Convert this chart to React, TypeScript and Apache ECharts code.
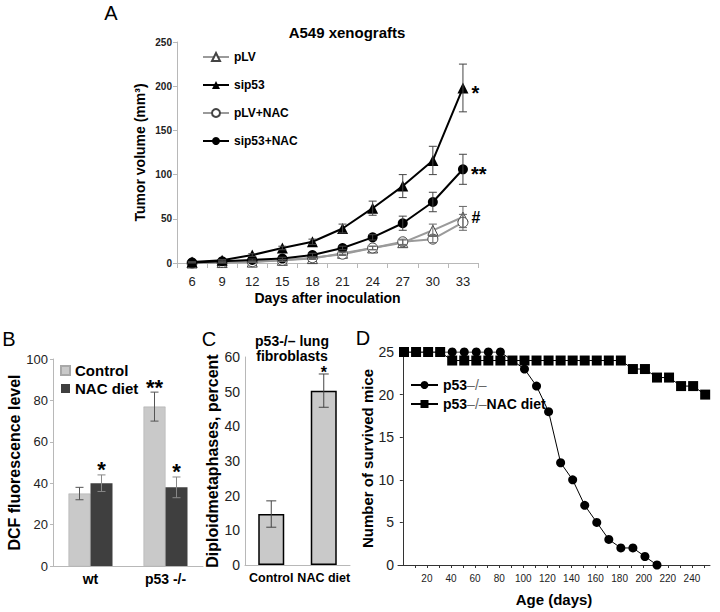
import React, { useEffect, useRef } from "react";
import * as echarts from "echarts";

const FONT = '"Liberation Sans", Arial, Helvetica, sans-serif';

// ---------- Panel A data ----------
const daysA = ["6", "9", "12", "15", "18", "21", "24", "27", "30", "33"];
const pLV = [0, 0.5, 1, 3, 5, 11, 17, 23, 37, 52];
const pLVErr = [0, 0, 0.5, 1, 1, 1.5, 2, 3, 7, 12];
const sip53 = [1, 3, 9, 17, 24, 39, 62, 87, 116, 198];
const sip53Err = [0.5, 1, 1.5, 2, 3, 5, 8, 13, 16, 27];
const pLVNAC = [0, 0.5, 1.5, 3, 6, 10, 17, 24, 27, 46];
const pLVNACErr = [0, 0.5, 0.5, 1, 1, 1.5, 2, 3, 4, 9];
const sip53NAC = [0.5, 2, 3.5, 5, 9, 17, 29, 45, 69, 106];
const sip53NACErr = [0.5, 0.5, 1, 1.5, 2, 2, 3, 8, 11, 17];
const yTicksA = { min: 0, max: 250, step: 50 };

// ---------- Panel B data ----------
const bCats = ["wt", "p53 -/-"];
const bControl = [35, 77];
const bControlErr = [3, 7];
const bControlStars = ["", "**"];
const bNAC = [40, 38];
const bNACErr = [4, 5];
const bNACStars = ["*", "*"];

// ---------- Panel C data ----------
const cCats = ["Control", "NAC diet"];
const cValues = [14.7, 50.3];
const cErr = [3.8, 4.8];
const cStars = ["", "*"];

// ---------- Panel D data ----------
const dDaysP53 = [1, 11, 21, 31, 41, 51, 61, 71, 81, 91, 101, 111, 121, 131, 141, 151, 161, 171, 181, 191, 201, 211];
const dP53 = [25, 25, 25, 25, 25, 25, 25, 25, 25, 24, 23, 21, 18, 12, 10, 7, 5, 3, 2, 2, 1, 0];
const dDaysNAC = [1, 11, 21, 31, 41, 51, 61, 71, 81, 91, 101, 111, 121, 131, 141, 151, 161, 171, 181, 191, 201, 211, 221, 231, 241, 251];
const dNAC = [25, 25, 25, 25, 24, 24, 24, 24, 24, 24, 24, 24, 24, 24, 24, 24, 24, 24, 24, 23, 23, 22, 22, 21, 21, 20];
const dLabelTicks = [20, 40, 60, 80, 100, 120, 140, 160, 180, 200, 220, 240];
const dMinorTicks = [10, 20, 30, 40, 50, 60, 70, 80, 90, 100, 110, 120, 130, 140, 150, 160, 170, 180, 190, 200, 210, 220, 230, 240, 250];

function lastLabel(vals: number[], text: string, dy: number) {
  return vals.map((v, i) =>
    i === vals.length - 1
      ? {
          value: v,
          label: {
            show: true,
            formatter: text,
            position: "right",
            distance: 3,
            offset: [0, dy],
            fontSize: text === "#" ? 16 : 20,
            fontWeight: "bold",
            color: "#000",
            fontFamily: FONT,
          },
        }
      : v
  );
}

function errSeries(
  xi: number,
  vals: number[],
  errs: number[],
  offset: number,
  color: string,
  capW: number,
  stars?: string[],
  starSize?: number,
  starDy?: number
) {
  return {
    type: "custom",
    xAxisIndex: xi,
    yAxisIndex: xi,
    z: 6,
    silent: true,
    data: vals.map((v, i) => [i, v, errs[i]]),
    renderItem: (params: any, api: any) => {
      const i = api.value(0);
      const v = api.value(1);
      const e = api.value(2);
      const top = api.coord([i, v + e]);
      const bot = api.coord([i, Math.max(v - e, 0)]);
      const cx = top[0] + offset;
      const children: any[] = [];
      if (e > 0) {
        const st = { stroke: color, lineWidth: 1 };
        children.push({ type: "line", shape: { x1: cx, y1: top[1], x2: cx, y2: bot[1] }, style: st });
        children.push({ type: "line", shape: { x1: cx - capW, y1: top[1], x2: cx + capW, y2: top[1] }, style: st });
        children.push({ type: "line", shape: { x1: cx - capW, y1: bot[1], x2: cx + capW, y2: bot[1] }, style: st });
      }
      const s = stars ? stars[params.dataIndex] : "";
      if (s) {
        children.push({
          type: "text",
          style: {
            text: s,
            x: cx,
            y: top[1] - (starDy || 0),
            font: `bold ${starSize}px ${FONT}`,
            fill: "#000",
            textAlign: "center",
            textVerticalAlign: "middle",
          },
        });
      }
      return { type: "group", children };
    },
  };
}

export default function App() {
  const ref = useRef<HTMLDivElement>(null);

  useEffect(() => {
    if (!ref.current) return;
    const chart = echarts.init(ref.current, null, { renderer: "svg" });

    const grayAxis = { show: true, lineStyle: { color: "#b8b8b8", width: 1 } };
    const darkAxis = { show: true, lineStyle: { color: "#333", width: 1 } };

    const option: any = {
      animation: false,
      backgroundColor: "#fff",
      textStyle: { fontFamily: FONT, color: "#000" },
      title: [
        {
          text: "A549 xenografts",
          left: 347,
          top: 25,
          textAlign: "center",
          padding: 0,
          textStyle: { fontSize: 15, fontWeight: "bold", color: "#000", fontFamily: FONT },
        },
        {
          text: "p53-/– lung\nfibroblasts",
          left: 292,
          top: 333,
          textAlign: "center",
          padding: 0,
          textStyle: { fontSize: 14, fontWeight: "bold", color: "#000", fontFamily: FONT, lineHeight: 15 },
        },
      ],
      graphic: [
        { type: "text", x: 111, y: 13, style: { text: "A", font: `20px ${FONT}`, fill: "#000", textAlign: "center", textVerticalAlign: "middle" } },
        { type: "text", x: 9, y: 339, style: { text: "B", font: `20px ${FONT}`, fill: "#000", textAlign: "center", textVerticalAlign: "middle" } },
        { type: "text", x: 209, y: 339, style: { text: "C", font: `20px ${FONT}`, fill: "#000", textAlign: "center", textVerticalAlign: "middle" } },
        { type: "text", x: 363, y: 338, style: { text: "D", font: `20px ${FONT}`, fill: "#000", textAlign: "center", textVerticalAlign: "middle" } },
      ],
      legend: [
        {
          data: ["pLV", "sip53", "pLV+NAC", "sip53+NAC"],
          orient: "vertical",
          left: 202,
          top: 51,
          padding: 0,
          itemWidth: 26,
          itemHeight: 10,
          itemGap: 16,
          textStyle: { fontSize: 12, fontWeight: "bold", color: "#000", fontFamily: FONT },
        },
        {
          data: ["Control", "NAC diet"],
          orient: "vertical",
          left: 60,
          top: 363,
          padding: 0,
          icon: "rect",
          itemWidth: 9,
          itemHeight: 9,
          itemGap: 3,
          textStyle: { fontSize: 15, fontWeight: "bold", color: "#000", fontFamily: FONT },
        },
        {
          data: ["p53–/–", "p53–/–NAC diet"],
          orient: "vertical",
          left: 410,
          top: 378,
          padding: 0,
          itemWidth: 27,
          itemHeight: 10,
          itemGap: 5,
          formatter: (n: string) => n.replace("–/–", "{d|–/–}"),
          textStyle: {
            fontSize: 14,
            fontWeight: "bold",
            color: "#000",
            fontFamily: FONT,
            rich: { d: { fontSize: 14, fontWeight: "normal", color: "#666", fontFamily: FONT } },
          },
        },
      ],
      grid: [
        { left: 177, top: 42, width: 301, height: 221 },
        { left: 53, top: 359, width: 150, height: 207 },
        { left: 245, top: 357, width: 105, height: 208 },
        { left: 398, top: 352, width: 312, height: 213 },
      ],
      xAxis: [
        {
          gridIndex: 0,
          type: "category",
          data: daysA,
          boundaryGap: true,
          axisLine: grayAxis,
          axisTick: { show: true, length: 5, lineStyle: { color: "#b8b8b8" } },
          axisLabel: { fontSize: 13, color: "#222", margin: 12, fontFamily: FONT },
          splitLine: { show: false },
          name: "Days after inoculation",
          nameLocation: "middle",
          nameGap: 28,
          nameTextStyle: { fontSize: 14, fontWeight: "bold", color: "#000", fontFamily: FONT },
        },
        {
          gridIndex: 1,
          type: "category",
          data: bCats,
          axisLine: grayAxis,
          axisTick: { show: false },
          axisLabel: { fontSize: 14, fontWeight: "bold", color: "#000", margin: 6, interval: 0, fontFamily: FONT },
          splitLine: { show: false },
        },
        {
          gridIndex: 2,
          type: "category",
          data: cCats,
          axisLine: grayAxis,
          axisTick: { show: false },
          axisLabel: { fontSize: 12.5, fontWeight: "bold", color: "#000", margin: 6, interval: 0, hideOverlap: false, fontFamily: FONT },
          splitLine: { show: false },
        },
        {
          gridIndex: 3,
          type: "value",
          min: -4,
          max: 255,
          axisLine: darkAxis,
          axisTick: { show: true, length: 3, customValues: dMinorTicks, lineStyle: { color: "#333" } },
          axisLabel: { fontSize: 10, color: "#222", margin: 8, customValues: dLabelTicks, fontFamily: FONT },
          splitLine: { show: false },
          name: "Age (days)",
          nameLocation: "middle",
          nameGap: 27,
          nameTextStyle: { fontSize: 15, fontWeight: "bold", color: "#000", fontFamily: FONT },
        },
      ],
      yAxis: [
        {
          gridIndex: 0,
          type: "value",
          min: yTicksA.min,
          max: yTicksA.max,
          interval: yTicksA.step,
          axisLine: grayAxis,
          axisTick: { show: true, length: 4, lineStyle: { color: "#b8b8b8" } },
          axisLabel: { fontSize: 10, fontWeight: "bold", color: "#222", margin: 5, fontFamily: FONT },
          splitLine: { show: false },
          name: "Tumor volume (mm³)",
          nameLocation: "middle",
          nameRotate: 90,
          nameGap: 30,
          nameTextStyle: { fontSize: 14, fontWeight: "bold", color: "#000", fontFamily: FONT },
        },
        {
          gridIndex: 1,
          type: "value",
          min: 0,
          max: 100,
          interval: 20,
          axisLine: grayAxis,
          axisTick: { show: true, length: 3, lineStyle: { color: "#b8b8b8" } },
          axisLabel: { fontSize: 13, color: "#222", margin: 5, fontFamily: FONT },
          splitLine: { show: false },
          name: "DCF fluorescence level",
          nameLocation: "middle",
          nameRotate: 90,
          nameGap: 23,
          nameTextStyle: { fontSize: 16, fontWeight: "bold", color: "#000", fontFamily: FONT },
        },
        {
          gridIndex: 2,
          type: "value",
          min: 0,
          max: 60,
          interval: 10,
          axisLine: grayAxis,
          axisTick: { show: false },
          axisLabel: { fontSize: 14, color: "#222", margin: 5, fontFamily: FONT },
          splitLine: { show: false },
          name: "Diploidmetaphases, percent",
          nameLocation: "middle",
          nameRotate: 90,
          nameGap: 19,
          nameTextStyle: { fontSize: 16, fontWeight: "bold", color: "#000", fontFamily: FONT },
        },
        {
          gridIndex: 3,
          type: "value",
          min: 0,
          max: 25,
          interval: 5,
          axisLine: darkAxis,
          axisTick: { show: true, length: 3, lineStyle: { color: "#333" } },
          axisLabel: { fontSize: 14, color: "#222", margin: 4, fontFamily: FONT },
          splitLine: { show: false },
          name: "Number of survived mice",
          nameLocation: "middle",
          nameRotate: 90,
          nameGap: 20,
          nameTextStyle: { fontSize: 15, fontWeight: "bold", color: "#000", fontFamily: FONT },
        },
      ],
      series: [
        // Panel A
        {
          name: "pLV",
          type: "line",
          xAxisIndex: 0,
          yAxisIndex: 0,
          data: lastLabel(pLV, "#", 0),
          symbol: "triangle",
          symbolSize: 10,
          lineStyle: { color: "#9a9a9a", width: 2 },
          itemStyle: { color: "#fff", borderColor: "#444", borderWidth: 1 },
          z: 3,
        },
        {
          name: "pLV+NAC",
          type: "line",
          xAxisIndex: 0,
          yAxisIndex: 0,
          data: pLVNAC,
          symbol: "circle",
          symbolSize: 10,
          lineStyle: { color: "#9a9a9a", width: 2 },
          itemStyle: { color: "#fff", borderColor: "#444", borderWidth: 1 },
          z: 3,
        },
        {
          name: "sip53+NAC",
          type: "line",
          xAxisIndex: 0,
          yAxisIndex: 0,
          data: lastLabel(sip53NAC, "**", 5),
          symbol: "circle",
          symbolSize: 10,
          lineStyle: { color: "#000", width: 2 },
          itemStyle: { color: "#000" },
          z: 4,
        },
        {
          name: "sip53",
          type: "line",
          xAxisIndex: 0,
          yAxisIndex: 0,
          data: lastLabel(sip53, "*", 5),
          symbol: "triangle",
          symbolSize: 11,
          lineStyle: { color: "#000", width: 2 },
          itemStyle: { color: "#000" },
          z: 4,
        },
        errSeries(0, pLV, pLVErr, 0, "#666", 4),
        errSeries(0, pLVNAC, pLVNACErr, 0, "#666", 4),
        errSeries(0, sip53NAC, sip53NACErr, 0, "#444", 4),
        errSeries(0, sip53, sip53Err, 0, "#444", 4),
        // Panel B
        {
          name: "Control",
          type: "bar",
          xAxisIndex: 1,
          yAxisIndex: 1,
          data: bControl,
          barWidth: 22,
          barGap: "0%",
          itemStyle: { color: "#c9c9c9", borderColor: "#a8a8a8", borderWidth: 0.5 },
        },
        {
          name: "NAC diet",
          type: "bar",
          xAxisIndex: 1,
          yAxisIndex: 1,
          data: bNAC,
          barWidth: 22,
          barGap: "0%",
          itemStyle: { color: "#3f3f3f" },
        },
        errSeries(1, bControl, bControlErr, -11, "#555", 4, bControlStars, 22, 5),
        errSeries(1, bNAC, bNACErr, 11, "#888", 4, bNACStars, 22, 5),
        // Panel C
        {
          name: "Diploid",
          type: "bar",
          xAxisIndex: 2,
          yAxisIndex: 2,
          data: cValues,
          barWidth: 26,
          itemStyle: { color: "#c9c9c9", borderColor: "#000", borderWidth: 1.5 },
        },
        errSeries(2, cValues, cErr, 0, "#444", 5, cStars, 16, 1),
        // Panel D
        {
          name: "p53–/–",
          type: "line",
          xAxisIndex: 3,
          yAxisIndex: 3,
          data: dDaysP53.map((d, i) => [d, dP53[i]]),
          symbol: "circle",
          symbolSize: 9,
          lineStyle: { color: "#000", width: 1 },
          itemStyle: { color: "#000" },
          z: 3,
        },
        {
          name: "p53–/–NAC diet",
          type: "line",
          xAxisIndex: 3,
          yAxisIndex: 3,
          data: dDaysNAC.map((d, i) => [d, dNAC[i]]),
          symbol: "rect",
          symbolSize: 10,
          lineStyle: { color: "#000", width: 1 },
          itemStyle: { color: "#000" },
          z: 4,
        },
      ],
    };

    chart.setOption(option);
    return () => chart.dispose();
  }, []);

  return (
    <div
      ref={ref}
      style={{ position: "absolute", left: 0, top: 0, width: 720, height: 612, background: "#fff" }}
    />
  );
}
